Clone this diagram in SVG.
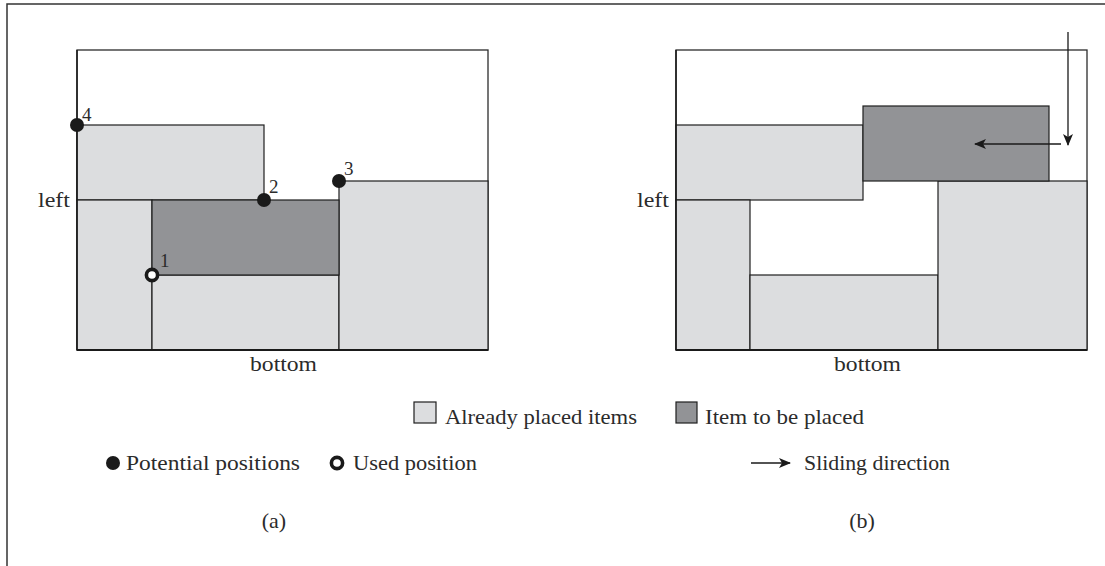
<svg xmlns="http://www.w3.org/2000/svg" width="1105" height="566" viewBox="0 0 1105 566">
  <style>
    text { font-family: "Liberation Serif", "Times New Roman", serif; fill: #2b2b2b; }
    .lbl { font-size: 22px; }
    .num { font-size: 19px; }
    .frame { fill: #ffffff; stroke: #2b2b2b; stroke-width: 1.3; }
    .placed { fill: #dcdddf; stroke: #1e1e1e; stroke-width: 1.2; }
    .moving { fill: #929396; stroke: #1e1e1e; stroke-width: 1.2; }
    .pt { fill: #1a1a1a; }
    .used { fill: #ffffff; stroke: #1a1a1a; stroke-width: 3.6; }
    .arr { stroke: #1a1a1a; stroke-width: 1.3; fill: none; }
  </style>
  <defs>
    <marker id="head" viewBox="0 0 12 10" refX="11" refY="5" markerWidth="12" markerHeight="10" markerUnits="userSpaceOnUse" orient="auto">
      <path d="M0,0 L12,5 L0,10 L3,5 Z" fill="#1a1a1a"/>
    </marker>
  </defs>

  <!-- outer border (top and left edges only) -->
  <path d="M7,566 V4 H1105" fill="none" stroke="#333" stroke-width="1.5"/>

  <!-- panel (a): bottom-left fill -->
  <g id="panel-a">
    <rect class="frame" x="77" y="50" width="411" height="300"/>
    <rect class="placed" x="77" y="125" width="187" height="75"/>
    <rect class="placed" x="77" y="200" width="75" height="150"/>
    <rect class="placed" x="152" y="275" width="187" height="75"/>
    <rect class="placed" x="339" y="181" width="149" height="169"/>
    <rect class="moving" x="152" y="200" width="187" height="75"/>
    <path d="M77,350 H488" stroke="#1a1a1a" stroke-width="2"/>
    <path d="M77,50 V350" stroke="#1a1a1a" stroke-width="1.5"/>
    <text class="lbl" x="38" y="207" textLength="32" lengthAdjust="spacingAndGlyphs">left</text>
    <text class="lbl" x="250" y="371" textLength="67" lengthAdjust="spacingAndGlyphs">bottom</text>
  </g>

  <g id="point-4">
    <circle class="pt" cx="77" cy="125" r="7"/>
    <text class="num" x="82" y="121">4</text>
  </g>
  <g id="point-2">
    <circle class="pt" cx="264" cy="200" r="7"/>
    <text class="num" x="269" y="193">2</text>
  </g>
  <g id="point-3">
    <circle class="pt" cx="339" cy="181" r="7"/>
    <text class="num" x="344" y="175">3</text>
  </g>
  <g id="point-1">
    <circle class="used" cx="152" cy="275" r="5.6"/>
    <text class="num" x="160" y="267">1</text>
  </g>

  <!-- panel (b): sliding placement -->
  <g id="panel-b">
    <rect class="frame" x="676" y="50" width="411" height="300"/>
    <rect class="placed" x="676" y="125" width="187" height="75"/>
    <rect class="placed" x="676" y="200" width="74" height="150"/>
    <rect class="placed" x="750" y="275" width="188" height="75"/>
    <rect class="placed" x="938" y="181" width="149" height="169"/>
    <rect class="moving" x="863" y="106" width="186" height="75"/>
    <path d="M676,350 H1087" stroke="#1a1a1a" stroke-width="2"/>
    <path d="M676,50 V350" stroke="#1a1a1a" stroke-width="1.5"/>
    <text class="lbl" x="637" y="207" textLength="32" lengthAdjust="spacingAndGlyphs">left</text>
    <text class="lbl" x="834" y="371" textLength="67" lengthAdjust="spacingAndGlyphs">bottom</text>
  </g>

  <g id="connectors">
    <path class="arr" d="M1068,32 V145" marker-end="url(#head)"/>
    <path class="arr" d="M1061,144 H975" marker-end="url(#head)"/>
  </g>

  <!-- legend -->
  <g id="legend-placed">
    <rect class="placed" x="414" y="402" width="22" height="21"/>
    <text class="lbl" x="445" y="424" textLength="192" lengthAdjust="spacingAndGlyphs">Already placed items</text>
  </g>
  <g id="legend-moving">
    <rect class="moving" x="676" y="402" width="21" height="21"/>
    <text class="lbl" x="705" y="424" textLength="159" lengthAdjust="spacingAndGlyphs">Item to be placed</text>
  </g>
  <g id="legend-potential">
    <circle class="pt" cx="113" cy="463" r="7"/>
    <text class="lbl" x="126" y="470" textLength="174" lengthAdjust="spacingAndGlyphs">Potential positions</text>
  </g>
  <g id="legend-used">
    <circle class="used" cx="337" cy="463" r="5.6"/>
    <text class="lbl" x="353" y="470" textLength="124" lengthAdjust="spacingAndGlyphs">Used position</text>
  </g>
  <g id="legend-sliding">
    <path class="arr" d="M751,463 H790" marker-end="url(#head)"/>
    <text class="lbl" x="804" y="470" textLength="146" lengthAdjust="spacingAndGlyphs">Sliding direction</text>
  </g>

  <text class="lbl" x="274" y="528" text-anchor="middle">(a)</text>
  <text class="lbl" x="862" y="528" text-anchor="middle">(b)</text>
</svg>
